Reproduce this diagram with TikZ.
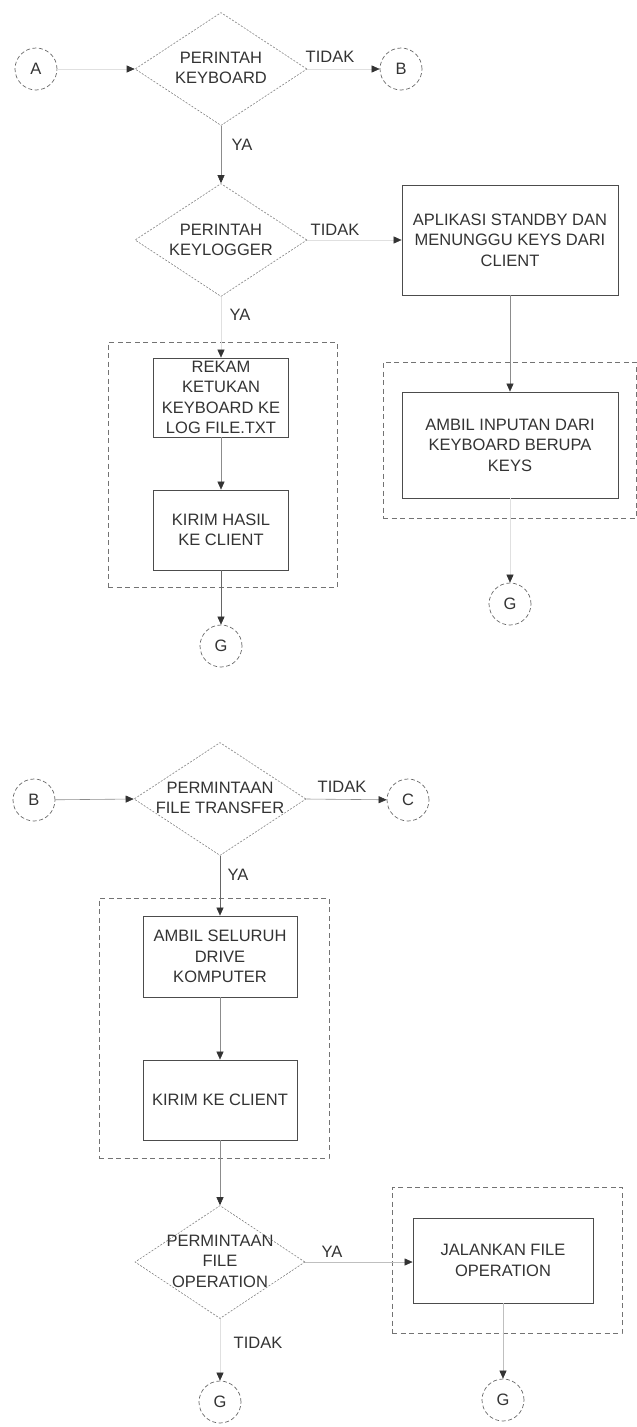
\documentclass[tikz,border=0pt]{standalone}
\usepackage{fontspec}
\setmainfont{Liberation Sans}
\usetikzlibrary{shapes.geometric,arrows.meta}

\newcommand{\fs}{\fontsize{16.5}{20.5}\selectfont}
\tikzset{every picture/.style={line width=0.75pt}}
\tikzset{
  decision/.style={diamond, draw=black!50, dash pattern=on 2pt off 1.5pt, line width=0.6pt, inner sep=0pt, minimum width=172pt, minimum height=113pt},
  procbox/.style={rectangle, draw=black!70, line width=0.8pt, inner sep=0pt, align=center, font=\fs, text=black!80},
  connector/.style={circle, draw=black!60, dash pattern=on 4pt off 2.5pt, line width=0.7pt, minimum size=42pt, inner sep=0pt, font=\fs, text=black!80},
  groupbox/.style={rectangle, draw=black!55, dash pattern=on 5pt off 3.5pt, line width=0.8pt, inner sep=0pt},
  txt/.style={align=center, inner sep=0pt, font=\fs, text=black!80},
  flow/.style={draw=black!45, line width=0.6pt, -{Triangle[length=8pt,width=7pt,color=black!80]}},
  faint/.style={flow, draw=black!12},
}

\begin{document}
\begin{tikzpicture}[x=1pt,y=1pt,yscale=-1,xscale=1]
\useasboundingbox (0,0) rectangle (637,1427);

%Shape: Dashed groups
\node [groupbox, minimum width=229pt, minimum height=245pt] (grpRekam) at (222.5,464.5) {};
\node [groupbox, minimum width=253pt, minimum height=156pt] (grpInput) at (509.5,440) {};
\node [groupbox, minimum width=230pt, minimum height=260pt] (grpDrive) at (214,1028) {};
\node [groupbox, minimum width=230pt, minimum height=146pt] (grpJalan) at (507,1260) {};

%Shape: Circles
\node [connector] (cA) at (36,69) {A};
\node [connector] (cB) at (401,69) {B};
\node [connector] (gRekam) at (221,646) {G};
\node [connector] (gInput) at (510,604) {G};
\node [connector] (cB2) at (34,800) {B};
\node [connector] (cC) at (408,800) {C};
\node [connector] (gTidak) at (220,1402) {G};
\node [connector] (gJalan) at (503,1400) {G};

%Shape: Diamonds
\node [decision] (dKeyboard) at (221,69) {};
\node [txt] (tKeyboard) at (221,68) {PERINTAH\\KEYBOARD};
\node [decision] (dKeylogger) at (221,240) {};
\node [txt] (tKeylogger) at (221,240) {PERINTAH\\KEYLOGGER};
\node [decision] (dTransfer) at (220,799) {};
\node [txt] (tTransfer) at (220,798) {PERMINTAAN\\FILE TRANSFER};
\node [decision, minimum width=170pt] (dOperation) at (220,1262) {};
\node [txt] (tOperation) at (220,1261) {PERMINTAAN\\FILE\\OPERATION};

%Shape: Rectangles
\node [procbox, minimum width=135pt, minimum height=79pt] (bRekam) at (221,397.5) {REKAM\\KETUKAN\\KEYBOARD KE\\LOG FILE.TXT};
\node [procbox, minimum width=135pt, minimum height=80pt] (bKirimHasil) at (221,530) {KIRIM HASIL\\KE CLIENT};
\node [procbox, minimum width=216pt, minimum height=110pt] (bStandby) at (510,240) {APLIKASI STANDBY DAN\\MENUNGGU KEYS DARI\\CLIENT};
\node [procbox, minimum width=216pt, minimum height=106pt] (bInput) at (510,445) {AMBIL INPUTAN DARI\\KEYBOARD BERUPA\\KEYS};
\node [procbox, minimum width=154pt, minimum height=81pt] (bDrive) at (220,956.5) {AMBIL SELURUH\\DRIVE\\KOMPUTER};
\node [procbox, minimum width=154pt, minimum height=80pt] (bKirim) at (220,1100) {KIRIM KE CLIENT};
\node [procbox, minimum width=180pt, minimum height=85pt] (bJalan) at (503,1260.5) {JALANKAN FILE\\OPERATION};

% Text Node
\node [txt] (lTidak1) at (330,57) {TIDAK};
\node [txt] (lYa1) at (242,145) {YA};
\node [txt] (lTidak2) at (335,230) {TIDAK};
\node [txt] (lYa2) at (240,315) {YA};
\node [txt] (lTidak3) at (342,787) {TIDAK};
\node [txt] (lYa3) at (238,875) {YA};
\node [txt] (lYa4) at (332,1252) {YA};
\node [txt] (lTidak4) at (258,1343) {TIDAK};

%Straight Lines
\draw [faint] (cA) -- (dKeyboard.west);
\draw [faint] (dKeyboard.east) -- (cB);
\draw [flow] (dKeyboard.south) -- (dKeylogger.north);
\draw [faint] (dKeylogger.east) -- (bStandby.west |- dKeylogger.east);
\draw [faint] (dKeylogger.south) -- (bRekam.north);
\draw [flow] (bRekam) -- (bKirimHasil);
\draw [flow, draw=black!60] (bKirimHasil) -- (gRekam);
\draw [flow] (bStandby) -- (bInput);
\draw [faint] (bInput) -- (gInput);

\draw [flow] (cB2) -- (dTransfer.west);
\draw [flow] (dTransfer.east) -- (cC);
\draw [flow, draw=black!60] (dTransfer.south) -- (bDrive.north);
\draw [flow] (bDrive) -- (bKirim);
\draw [flow] (bKirim.south) -- (dOperation.north);
\draw [flow, draw=black!25] (dOperation.east) -- (bJalan.west |- dOperation.east);
\draw [faint] (dOperation.south) -- (gTidak);
\draw [flow, draw=black!25] (bJalan) -- (gJalan);

\end{tikzpicture}
\end{document}
